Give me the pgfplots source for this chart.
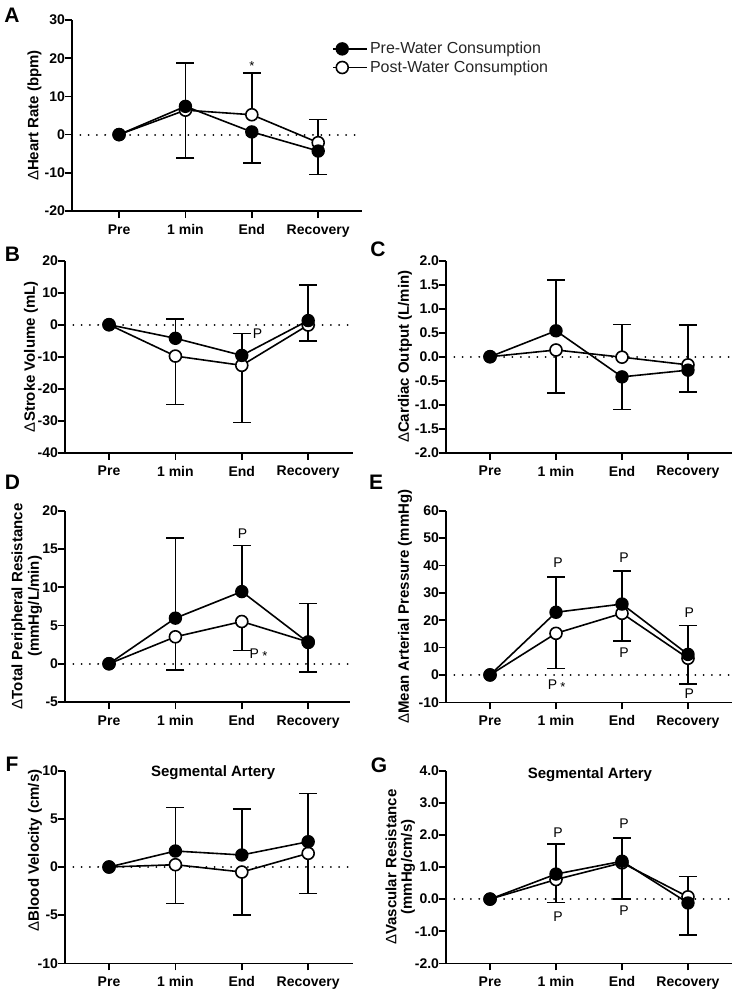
\documentclass[border=0pt]{standalone}
\usepackage{fontspec}
\setmainfont{Liberation Sans}
\usepackage{pgfplots}
\pgfplotsset{compat=1.18}

\pgfplotsset{
  panel/.style={scale only axis, clip=false, anchor=south west,
    axis x line=bottom, axis y line=left,
    axis line style={-, line width=1.6pt, black},
    xtick={0,1,2,3}, xticklabels={Pre,1 min,End,Recovery},
    tick align=outside, major tick length=7pt,
    tick style={line width=1.6pt, black},
    ticklabel style={font=\fontsize{14}{16}\selectfont\bfseries},
    xticklabel style={yshift=-3pt},
    yticklabel style={xshift=3.5pt},
    /pgf/number format/assume math mode=true,
    ylabel style={anchor=center, font=\fontsize{15}{17}\selectfont\bfseries, align=center},
  },
  onedec/.style={yticklabel style={/pgf/number format/.cd, fixed, fixed zerofill, precision=1}},
  pre/.style={black, line width=1.6pt, mark=*, mark size=6pt, mark options={solid, fill=black, draw=black, line width=1.4pt}},
  post/.style={black, line width=1.6pt, mark=*, mark size=6pt, mark options={solid, fill=white, draw=black, line width=1.6pt}},
  eb/.style={forget plot, only marks, mark=none, black,
    error bars/.cd, y explicit, y dir=#1,
    error bar style={black, solid, line width=1.6pt},
    error mark options={black, rotate=90, mark size=9pt, line width=1.6pt}},
  zero/.style={forget plot, black, line width=2pt, line cap=round, dash pattern=on 0.01pt off 8.3pt},
}
\tikzset{
  pl/.style={font=\fontsize{14}{16}\selectfont, inner sep=0pt},
  st/.style={font=\fontsize{13}{15}\selectfont, inner sep=0pt},
  letter/.style={font=\fontsize{21}{24}\selectfont\bfseries, inner sep=0pt},
  ttl/.style={font=\fontsize{15}{17}\selectfont\bfseries, inner sep=0pt},
}
\newcommand{\D}{{\mdseries Δ}}

\begin{document}
\begin{tikzpicture}
\path[use as bounding box] (0,0) rectangle (736pt,-993pt);

% ---------- A: heart rate
\begin{axis}[panel, at={(72pt,-211pt)}, width=290pt, height=191pt,
  xmin=-0.709, xmax=3.66, ymin=-20, ymax=30, ytick={-20,-10,...,30},
  ylabel={\D Heart Rate (bpm)}, ylabel style={at={(rel axis cs:-0.129,0.5)}},
  legend style={draw=none, fill=none, at={(rel axis cs:0.887,0.905)}, anchor=north west,
    font=\fontsize{16}{19}\selectfont, text=black!85, row sep=1.5pt},
  legend cell align=left,
  legend image code/.code={\draw[mark repeat=2, mark phase=2, #1] plot coordinates {(0pt,0pt) (9pt,0pt) (18pt,0pt)};
    \path (18pt,0pt) -- (34pt,0pt);}]
\addlegendimage{pre}\addlegendentry{Pre-Water Consumption}
\addlegendimage{post}\addlegendentry{Post-Water Consumption}
\addplot[zero] coordinates {(-0.709,0) (3.66,0)};
\addplot[eb=minus] coordinates {(1,7.4) +- (0,13.5) (2,0.7) +- (0,8.2) (3,-4.3) +- (0,6.1)};
\addplot[eb=plus] coordinates {(1,6.4) +- (0,12.4) (2,5.2) +- (0,10.9) (3,-2.1) +- (0,6.1)};
\addplot[post, forget plot] coordinates {(0,0) (1,6.4) (2,5.2) (3,-2.1)};
\addplot[pre, forget plot] coordinates {(0,0) (1,7.4) (2,0.7) (3,-4.3)};
\node[st] at (axis cs:2,17.96) {*};
\end{axis}

% ---------- B: stroke volume
\begin{axis}[panel, at={(65pt,-452.7pt)}, width=288pt, height=192pt,
  xmin=-0.663, xmax=3.675, ymin=-40, ymax=20, ytick={-40,-30,...,20},
  ylabel={\D Stroke Volume (mL)}, ylabel style={at={(rel axis cs:-0.118,0.5)}}]
\addplot[zero] coordinates {(-0.663,0) (3.675,0)};
\addplot[eb=plus] coordinates {(1,-4.25) +- (0,6.05) (2,-9.6) +- (0,6.8) (3,1.3) +- (0,11.1)};
\addplot[eb=minus] coordinates {(1,-9.8) +- (0,15.1) (2,-12.7) +- (0,17.9) (3,-0.1) +- (0,4.9)};
\addplot[post, forget plot] coordinates {(0,0) (1,-9.8) (2,-12.7) (3,-0.1)};
\addplot[pre, forget plot] coordinates {(0,0) (1,-4.25) (2,-9.6) (3,1.3)};
\node[pl] at (axis cs:2.236,-2.8) {P};
\end{axis}

% ---------- C: cardiac output
\begin{axis}[panel, onedec, at={(446pt,-452.7pt)}, width=286pt, height=192pt,
  xmin=-0.667, xmax=3.667, ymin=-2, ymax=2, ytick={-2,-1.5,...,2},
  ylabel={\D Cardiac Output (L/min)}, ylabel style={at={(rel axis cs:-0.143,0.5)}}]
\addplot[zero] coordinates {(-0.667,0) (3.667,0)};
\addplot[eb=plus] coordinates {(1,0.54) +- (0,1.06)};
\addplot[eb=minus] coordinates {(2,-0.42) +- (0,0.68) (3,-0.28) +- (0,0.46)};
\addplot[eb=minus] coordinates {(1,0.14) +- (0,0.89)};
\addplot[eb=plus] coordinates {(2,-0.01) +- (0,0.68) (3,-0.17) +- (0,0.83)};
\addplot[post, forget plot] coordinates {(0,0) (1,0.14) (2,-0.01) (3,-0.17)};
\addplot[pre, forget plot] coordinates {(0,0) (1,0.54) (2,-0.42) (3,-0.28)};
\end{axis}

% ---------- D: total peripheral resistance
\begin{axis}[panel, at={(65pt,-702pt)}, width=285pt, height=191.3pt,
  xmin=-0.663, xmax=3.63, ymin=-5, ymax=20, ytick={-5,0,...,20},
  ylabel={\D Total Peripheral Resistance\\(mmHg/L/min)},
  ylabel style={at={(rel axis cs:-0.134,0.5)}, font=\fontsize{15}{16.5}\selectfont\bfseries}]
\addplot[zero] coordinates {(-0.663,0) (3.63,0)};
\addplot[eb=plus] coordinates {(1,5.96) +- (0,10.5) (2,9.43) +- (0,6.0) (3,2.78) +- (0,5.1)};
\addplot[eb=minus] coordinates {(1,3.52) +- (0,4.3) (2,5.52) +- (0,3.8) (3,2.85) +- (0,3.95)};
\addplot[post, forget plot] coordinates {(0,0) (1,3.52) (2,5.52) (3,2.85)};
\addplot[pre, forget plot] coordinates {(0,0) (1,5.96) (2,9.43) (3,2.78)};
\node[pl] at (axis cs:2.01,17.06) {P};
\node[pl] at (axis cs:2.19,1.3) {P};
\node[st] at (axis cs:2.35,0.95) {*};
\end{axis}

% ---------- E: mean arterial pressure
\begin{axis}[panel, at={(446pt,-702.3pt)}, width=286pt, height=191.6pt,
  xmin=-0.667, xmax=3.667, ymin=-10, ymax=60, ytick={-10,0,...,60},
  ylabel={\D Mean Arterial Pressure (mmHg)}, ylabel style={at={(rel axis cs:-0.143,0.5)}}]
\addplot[zero] coordinates {(-0.667,0) (3.667,0)};
\addplot[eb=plus] coordinates {(1,22.9) +- (0,12.8) (2,25.9) +- (0,12.0) (3,7.5) +- (0,10.5)};
\addplot[eb=minus] coordinates {(1,15.2) +- (0,12.8) (2,22.5) +- (0,10.0) (3,6.1) +- (0,9.5)};
\addplot[post, forget plot] coordinates {(0,0) (1,15.2) (2,22.5) (3,6.1)};
\addplot[pre, forget plot] coordinates {(0,0) (1,22.9) (2,25.9) (3,7.5)};
\node[pl] at (axis cs:1.03,41.0) {P};
\node[pl] at (axis cs:0.947,-3.65) {P};
\node[st] at (axis cs:1.106,-4.4) {*};
\node[pl] at (axis cs:2.03,42.7) {P};
\node[pl] at (axis cs:2.03,8.15) {P};
\node[pl] at (axis cs:3.02,22.8) {P};
\node[pl] at (axis cs:3.02,-6.9) {P};
\end{axis}

% ---------- F: blood velocity
\begin{axis}[panel, at={(65pt,-963.3pt)}, width=288pt, height=192.6pt,
  xmin=-0.663, xmax=3.675, ymin=-10, ymax=10, ytick={-10,-5,...,10},
  ylabel={\D Blood Velocity (cm/s)}, ylabel style={at={(rel axis cs:-0.104,0.586)}}]
\addplot[zero] coordinates {(-0.663,0) (3.675,0)};
\addplot[eb=plus] coordinates {(1,1.66) +- (0,4.54) (2,1.25) +- (0,4.75) (3,2.63) +- (0,5.02)};
\addplot[eb=minus] coordinates {(1,0.24) +- (0,4.01) (2,-0.52) +- (0,4.46) (3,1.42) +- (0,4.19)};
\addplot[post, forget plot] coordinates {(0,0) (1,0.24) (2,-0.52) (3,1.42)};
\addplot[pre, forget plot] coordinates {(0,0) (1,1.66) (2,1.25) (3,2.63)};
\node[ttl] at (axis cs:1.57,9.76) {Segmental Artery};
\end{axis}

% ---------- G: vascular resistance
\begin{axis}[panel, onedec, at={(446pt,-963.3pt)}, width=286pt, height=192.6pt,
  xmin=-0.667, xmax=3.667, ymin=-2, ymax=4, ytick={-2,-1,...,4},
  ylabel={\D Vascular Resistance\\(mmHg/cm/s)},
  ylabel style={at={(rel axis cs:-0.16,0.5)}, font=\fontsize{15}{15.5}\selectfont\bfseries}]
\addplot[zero] coordinates {(-0.667,0) (3.667,0)};
\addplot[eb=plus] coordinates {(1,0.78) +- (0,0.94) (2,1.18) +- (0,0.73)};
\addplot[eb=minus] coordinates {(3,-0.12) +- (0,1.0)};
\addplot[eb=minus] coordinates {(1,0.61) +- (0,0.71) (2,1.13) +- (0,1.13)};
\addplot[eb=plus] coordinates {(3,0.07) +- (0,0.64)};
\addplot[post, forget plot] coordinates {(0,0) (1,0.61) (2,1.13) (3,0.07)};
\addplot[pre, forget plot] coordinates {(0,0) (1,0.78) (2,1.18) (3,-0.12)};
\node[ttl] at (axis cs:1.515,3.89) {Segmental Artery};
\node[pl] at (axis cs:1.03,2.07) {P};
\node[pl] at (axis cs:1.03,-0.55) {P};
\node[pl] at (axis cs:2.03,2.36) {P};
\node[pl] at (axis cs:2.03,-0.35) {P};
\end{axis}

% panel letters
\node[letter] at (12pt,-15pt) {A};
\node[letter] at (12.5pt,-254pt) {B};
\node[letter] at (378pt,-249pt) {C};
\node[letter] at (12.5pt,-482pt) {D};
\node[letter] at (376pt,-482pt) {E};
\node[letter] at (12pt,-764pt) {F};
\node[letter] at (379pt,-765pt) {G};
\end{tikzpicture}
\end{document}
